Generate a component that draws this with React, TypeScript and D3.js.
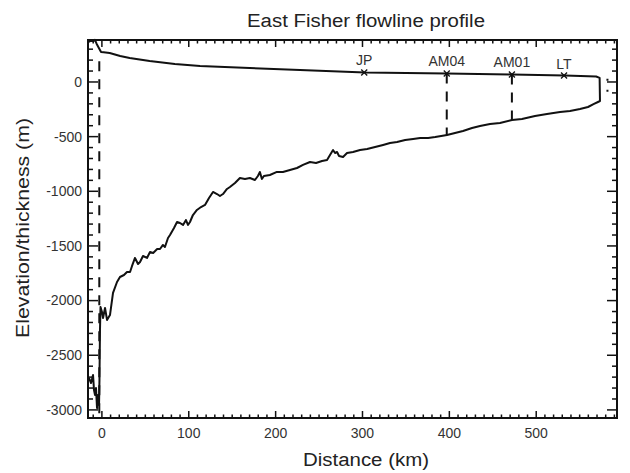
import React from "react";
import * as d3 from "d3";

const W = 630;
const H = 473;

const titleText = "East Fisher flowline profile";
const xLabel = "Distance (km)";
const yLabel = "Elevation/thickness (m)";

const xTickValues = [0, 100, 200, 300, 400, 500];
const yTickValues = [0, -500, -1000, -1500, -2000, -2500, -3000];

// Surface elevation (km, m)
const surfaceKm = [-15, -12.5, -10, -8, -6, -3.5, -1, 2, 9, 21, 32, 55, 84, 113, 170, 228, 303, 350, 397, 472, 533, 569, 573];
const surfaceElev = [366, 380, 372, 385, 348, 311, 274, 272, 265, 238, 220, 192, 165, 146, 128, 110, 87, 82, 78, 69, 59, 50, 37];

// Ice front (km, m)
const frontKm = [573.4];
const frontElev = [-174];

// Bed elevation (km, m), left to right
const bedKm = [
  -14.9, -12.5, -10.2, -9.1, -7.9, -6.8, -5.6, -4.5, -3.3, -2.8, -2.2, -1.6, 0.1, 1.3, 3.6, 5.9, 9.3,
  12.8, 17.4, 20.8, 25.4, 28.9, 32.4, 34.7, 38.1, 41.6, 43.9, 47.3, 51.9, 55.4, 59.0, 63.6, 66.9,
  70.3, 72.6, 76.1, 78.4, 83.0, 86.5, 89.9, 93.4, 96.8, 99.1, 101.4, 104.8, 109.4, 114.1, 118.7,
  123.3, 127.9, 132.5, 135.9, 139.4, 144.0, 147.4, 153.2, 158.9, 164.7, 170.4, 176.2, 179.6, 181.9,
  184.2, 186.5, 193.4, 201.5, 208.4, 216.5, 224.6, 231.5, 239.6, 246.5, 253.4, 259.2, 262.6, 266.1,
  268.4, 270.7, 273.0, 277.6, 282.2, 289.1, 297.2, 305.3, 314.5, 323.7, 331.7, 339.8, 349.1, 358.3,
  366.4, 375.6, 383.7, 390.6, 397.3, 406.5, 415.7, 426.1, 435.3, 446.8, 458.3, 472.1, 483.6, 498.6,
  512.4, 527.4, 538.9, 550.4, 559.6, 566.5, 571.1, 573.4,
];
const bedElev = [
  -2708, -2754, -2681, -2818, -2864, -2800, -2983, -2864, -2955, -2727, -2269, -2059, -2104, -2159, -2068, -2177, -2132,
  -1930, -1830, -1784, -1766, -1738, -1738, -1683, -1610, -1665, -1647, -1592, -1610, -1555, -1564, -1528, -1528,
  -1491, -1510, -1427, -1400, -1336, -1281, -1290, -1308, -1263, -1308, -1281, -1217, -1171, -1144, -1125,
  -1061, -1006, -1025, -1043, -1025, -979, -961, -924, -878, -887, -878, -897, -860, -823,
  -887, -860, -851, -823, -823, -805, -787, -759, -732, -741, -723, -714, -668, -622,
  -650, -640, -677, -686, -650, -640, -622, -613, -595, -576, -558, -549, -531, -521,
  -512, -512, -503, -494, -485, -467, -448, -421, -403, -384, -375, -348, -339, -311,
  -293, -274, -265, -247, -229, -201, -183, -174,
];

// Station markers on the surface
const stationNames = ["JP", "AM04", "AM01", "LT"];
const stationKm = [302, 397, 472, 532];
const stationElev = [87, 78, 69, 59];

// Dashed vertical profiles (km, top, bottom)
const dashKm = [-3, 397, 472];
const dashTop = [190, 78, 69];
const dashBottom = [-3074, -485, -348];

// Little dotted mark beyond the front
const frontMarkKm = [582];
const frontMarkTop = [30];
const frontMarkBottom = [-110];

const margin = { left: 88, right: 13, top: 40, bottom: 55 };

export default function App() {
  const x = d3.scaleLinear().domain([-16, 593]).range([margin.left, W - margin.right]);
  const y = d3.scaleLinear().domain([-3074, 384]).range([H - margin.bottom, margin.top]);

  const x0 = margin.left;
  const x1 = W - margin.right;
  const y0 = margin.top;
  const y1 = H - margin.bottom;

  const outline: [number, number][] = [];
  surfaceKm.forEach((k, i) => outline.push([k, surfaceElev[i]]));
  frontKm.forEach((k, i) => outline.push([k, frontElev[i]]));
  for (let i = bedKm.length - 1; i >= 0; i--) outline.push([bedKm[i], bedElev[i]]);

  const line = d3
    .line<[number, number]>()
    .x((d) => x(d[0]))
    .y((d) => y(d[1]));

  const xMinor = d3.range(-10, 594, 10).filter((v) => v % 100 !== 0);
  const yMinor = d3.range(-3000, 384, 100).filter((v) => v % 500 !== 0);

  const font = "'Liberation Sans', Arial, Helvetica, sans-serif";
  const xMajLen = 7;
  const xMinLen = 3.5;
  const yMajLen = 10;
  const yMinLen = 5;

  return (
    <svg width={W} height={H} style={{ display: "block", position: "absolute", left: 0, top: 0, background: "#fff" }}>
      <rect x={0} y={0} width={W} height={H} fill="#fff" />
      <text
        x={366}
        y={27}
        textAnchor="middle"
        fontFamily={font}
        fontSize={18}
        fill="#222"
        textLength={238}
        lengthAdjust="spacingAndGlyphs"
      >
        {titleText}
      </text>

      {/* ticks */}
      <g stroke="#111" strokeWidth={1.5}>
        {xTickValues.map((v) => (
          <g key={"xt" + v}>
            <line x1={x(v)} x2={x(v)} y1={y1} y2={y1 - xMajLen} />
            <line x1={x(v)} x2={x(v)} y1={y0} y2={y0 + xMajLen} />
          </g>
        ))}
        {xMinor.map((v) => (
          <g key={"xm" + v}>
            <line x1={x(v)} x2={x(v)} y1={y1} y2={y1 - xMinLen} />
            <line x1={x(v)} x2={x(v)} y1={y0} y2={y0 + xMinLen} />
          </g>
        ))}
        {yTickValues.map((v) => (
          <g key={"yt" + v}>
            <line x1={x0} x2={x0 + yMajLen} y1={y(v)} y2={y(v)} />
            <line x1={x1} x2={x1 - yMajLen} y1={y(v)} y2={y(v)} />
          </g>
        ))}
        {yMinor.map((v) => (
          <g key={"ym" + v}>
            <line x1={x0} x2={x0 + yMinLen} y1={y(v)} y2={y(v)} />
            <line x1={x1} x2={x1 - yMinLen} y1={y(v)} y2={y(v)} />
          </g>
        ))}
      </g>

      {/* tick labels */}
      {xTickValues.map((v) => (
        <text key={"xl" + v} x={x(v)} y={y1 + 20} textAnchor="middle" fontFamily={font} fontSize={14} fill="#333">
          {v}
        </text>
      ))}
      {yTickValues.map((v) => (
        <text key={"yl" + v} x={x0 - 6} y={y(v)} dy="0.35em" textAnchor="end" fontFamily={font} fontSize={14} fill="#333">
          {v}
        </text>
      ))}

      <text
        x={366}
        y={466}
        textAnchor="middle"
        fontFamily={font}
        fontSize={18}
        fill="#222"
        textLength={126}
        lengthAdjust="spacingAndGlyphs"
      >
        {xLabel}
      </text>
      <text
        transform={`translate(29, 228) rotate(-90)`}
        textAnchor="middle"
        fontFamily={font}
        fontSize={18}
        fill="#222"
        textLength={220}
        lengthAdjust="spacingAndGlyphs"
      >
        {yLabel}
      </text>

      {/* dashed vertical lines */}
      {dashKm.map((k, i) => (
        <line
          key={"d" + i}
          x1={x(k)}
          x2={x(k)}
          y1={y(dashTop[i])}
          y2={y(dashBottom[i])}
          stroke="#111"
          strokeWidth={2}
          strokeDasharray="10,8"
        />
      ))}
      {frontMarkKm.map((k, i) => (
        <line
          key={"f" + i}
          x1={x(k)}
          x2={x(k)}
          y1={y(frontMarkTop[i])}
          y2={y(frontMarkBottom[i])}
          stroke="#111"
          strokeWidth={2}
          strokeDasharray="2,9"
        />
      ))}

      {/* profile outline */}
      <path d={line(outline) || ""} fill="none" stroke="#111" strokeWidth={2} strokeLinejoin="round" />

      {/* stations */}
      {stationNames.map((n, i) => {
        const cx = x(stationKm[i]);
        const cy = y(stationElev[i]);
        return (
          <g key={n}>
            <line x1={cx - 3} x2={cx + 3} y1={cy - 3} y2={cy + 3} stroke="#111" strokeWidth={1.3} />
            <line x1={cx - 3} x2={cx + 3} y1={cy + 3} y2={cy - 3} stroke="#111" strokeWidth={1.3} />
            <text x={cx} y={cy - 7} textAnchor="middle" fontFamily={font} fontSize={14} fill="#333">
              {n}
            </text>
          </g>
        );
      })}

      {/* frame */}
      <rect x={x0} y={y0} width={x1 - x0} height={y1 - y0} fill="none" stroke="#111" strokeWidth={2} />
    </svg>
  );
}
